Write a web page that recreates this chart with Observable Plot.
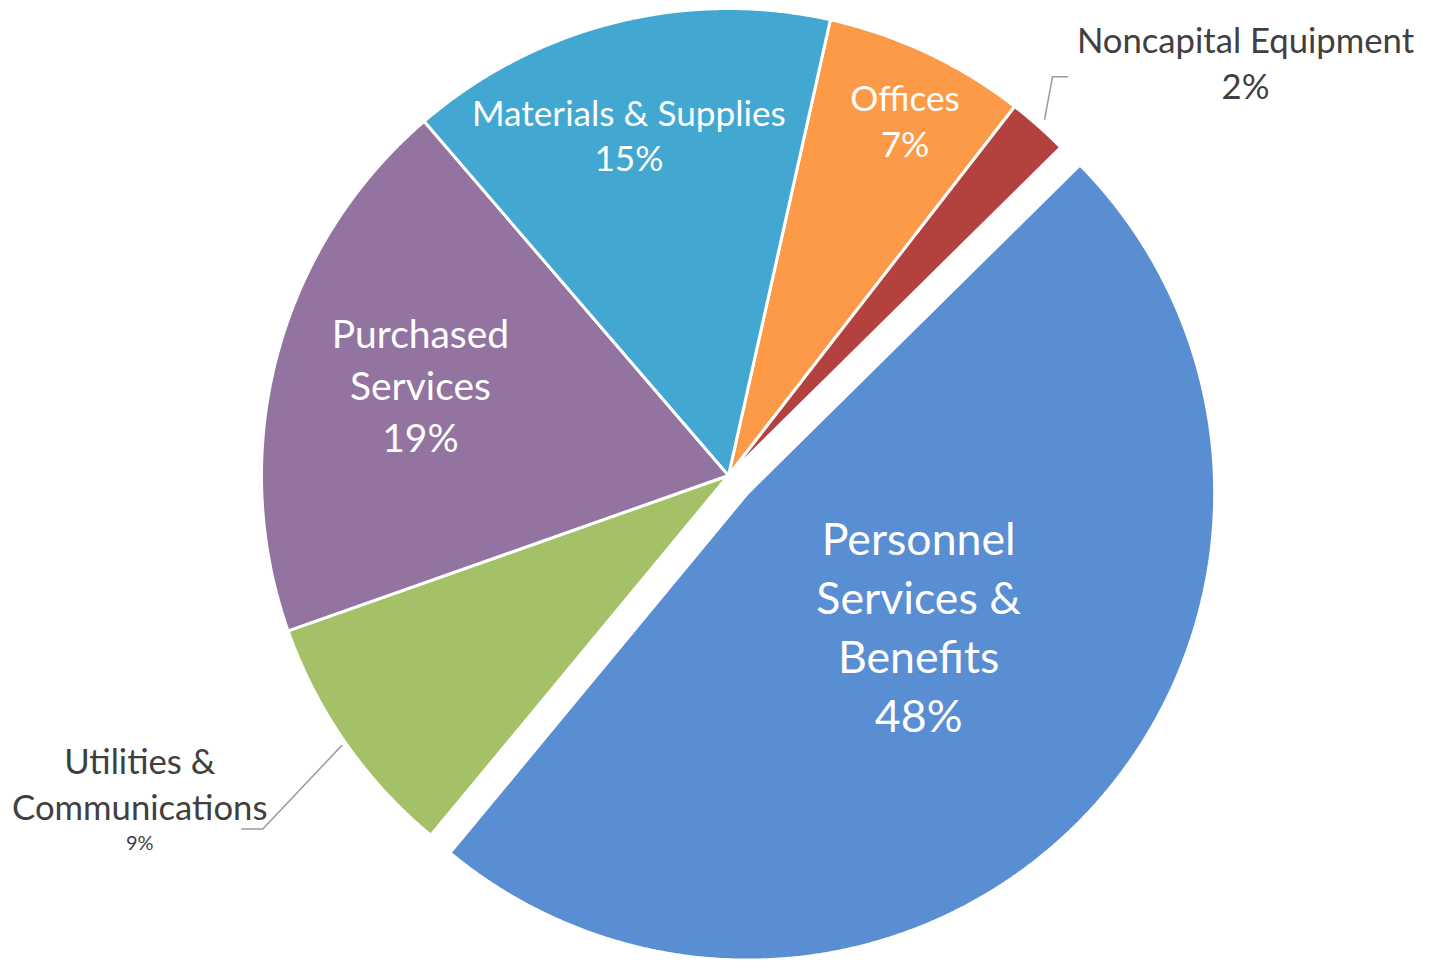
<!DOCTYPE html>
<html>
<head>
<meta charset="utf-8">
<script src="https://cdn.jsdelivr.net/npm/d3@7"></script>
<script src="https://cdn.jsdelivr.net/npm/@observablehq/plot@0.6"></script>
<style>
  html, body { margin: 0; padding: 0; background: #ffffff; }
  #chart { width: 1430px; height: 962px; }
</style>
</head>
<body>
<div id="chart"></div>
<script>
// ---- data (clockwise from the Materials/Offices boundary) ----
const categories = ["Offices", "Noncapital Equipment", "Personnel Services & Benefits", "Utilities & Communications", "Purchased Services", "Materials & Supplies"];
const shares = [7.0, 2.1, 48.4, 8.6, 19.1, 14.8];
const pctLabels = ["7%", "2%", "48%", "9%", "19%", "15%"];
const labelLines = ["Offices", "Noncapital Equipment", "Personnel\nServices &\nBenefits", "Utilities &\nCommunications", "Purchased\nServices", "Materials & Supplies"];
const colors = ["#fd9a47", "#b3423e", "#5a8ed3", "#a4c168", "#93739f", "#42a7d1"];

// ---- layout ----
const W = 1430, H = 962;
const CX = 728, CY = 475, R = 467;
const START_DEG = 12.6;
const explode = [0, 0, 26, 0, 0, 0];
const FONT = "Lato, 'Open Sans', sans-serif";
const FS = 0.95; // Lato vs Calibri size factor
const TEXT_DY = -4;
// inside labels: radius fraction, angle nudge (deg), font size, line spacing px
const inside = {
  0: {r: 0.844, da: 1.4, size: 37, lh: 46},
  2: {r: 0.467, da: -4.1, size: 47, lh: 59},
  4: {r: 0.686, da: 1.0, size: 41, lh: 52},
  5: {r: 0.754, da: -2.4, size: 37, lh: 46}
};
// outside labels with leader lines
const outside = {
  1: {r0: 1.02, r1: 1.10, a1: 39.1, tail: 15, dx: 178, dy: -12, size: 36.5, lh: 46, pctSame: true},
  3: {r0: 1.01, r1: 1.252, a1: 232.8, tail: -21, dx: -102, dy: -43, size: 36.5, lh: 46, pctSize: 21, pdy: 17}
};

const rad = d => d * Math.PI / 180;
const arcs = d3.pie().sort(null).value(d => d)
  .startAngle(rad(START_DEG)).endAngle(rad(START_DEG) + 2 * Math.PI)(shares);

function pt(cx, cy, r, a) { return {x: cx + r * Math.sin(a), y: cy - r * Math.cos(a)}; }

const marks = [];
arcs.forEach((a, i) => {
  const mid = (a.startAngle + a.endAngle) / 2;
  const c = pt(CX, CY, explode[i], mid);
  const pts = [{x: c.x, y: c.y}];
  const n = Math.max(8, Math.ceil((a.endAngle - a.startAngle) / rad(0.25)));
  for (let k = 0; k <= n; k++) {
    const ang = a.startAngle + (a.endAngle - a.startAngle) * k / n;
    pts.push(pt(c.x, c.y, R, ang));
  }
  marks.push(Plot.line(pts, {x: "x", y: "y", fill: colors[i], stroke: "white", strokeWidth: 3, strokeLinejoin: "miter", curve: "linear-closed"}));
});

arcs.forEach((a, i) => {
  const mid = (a.startAngle + a.endAngle) / 2;
  const c = pt(CX, CY, explode[i], mid);
  if (inside[i]) {
    const L = inside[i];
    const p = pt(c.x, c.y, L.r * R, mid + rad(L.da));
    const fs = L.size * FS;
    marks.push(Plot.text([{...p, t: labelLines[i] + "\n" + pctLabels[i]}], {
      x: "x", y: "y", text: "t", fill: "white", fontSize: fs, fontFamily: FONT,
      lineHeight: L.lh / fs, textAnchor: "middle", dy: TEXT_DY
    }));
  } else if (outside[i]) {
    const O = outside[i];
    const p0 = pt(c.x, c.y, O.r0 * R, mid);
    const p1 = pt(c.x, c.y, O.r1 * R, rad(O.a1));
    const p2 = {x: p1.x + O.tail, y: p1.y};
    marks.push(Plot.line([p0, p1, p2], {x: "x", y: "y", stroke: "#9a9a9a", strokeWidth: 1.5}));
    const fs = O.size * FS;
    if (O.pctSame) {
      marks.push(Plot.text([{x: p2.x + O.dx, y: p2.y + O.dy, t: labelLines[i] + "\n" + pctLabels[i]}], {
        x: "x", y: "y", text: "t", fill: "#404040", fontSize: fs, fontFamily: FONT,
        lineHeight: O.lh / fs, textAnchor: "middle", dy: TEXT_DY
      }));
    } else {
      marks.push(Plot.text([{x: p2.x + O.dx, y: p2.y + O.dy, t: labelLines[i]}], {
        x: "x", y: "y", text: "t", fill: "#404040", fontSize: fs, fontFamily: FONT,
        lineHeight: O.lh / fs, textAnchor: "middle", dy: TEXT_DY
      }));
      marks.push(Plot.text([{x: p2.x + O.dx, y: p2.y + O.pdy, t: pctLabels[i]}], {
        x: "x", y: "y", text: "t", fill: "#404040", fontSize: O.pctSize * FS, fontFamily: FONT,
        textAnchor: "middle", dy: TEXT_DY / 2
      }));
    }
  }
});

const chart = Plot.plot({
  width: W, height: H,
  margin: 0,
  x: {domain: [0, W], range: [0, W], axis: null},
  y: {domain: [0, H], range: [0, H], axis: null},
  style: {background: "white"},
  marks
});
document.getElementById("chart").appendChild(chart);
</script>
</body>
</html>
